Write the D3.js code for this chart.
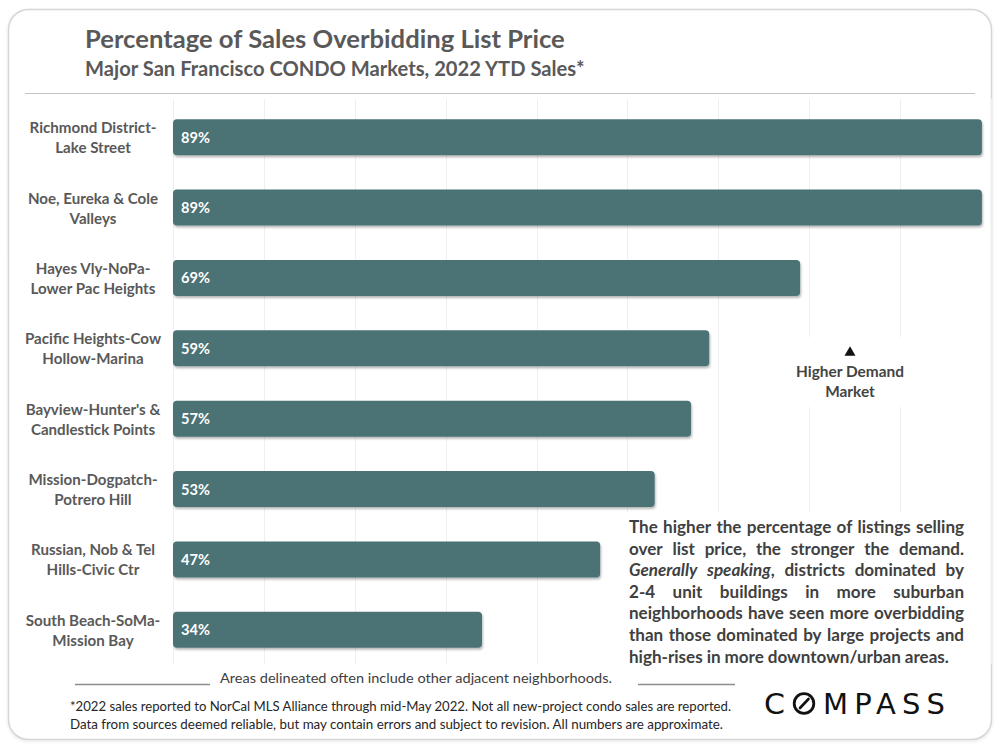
<!DOCTYPE html>
<html>
<head>
<meta charset="utf-8">
<script src="https://cdn.jsdelivr.net/npm/d3@7"></script>
<style>
  html, body { margin: 0; padding: 0; background: #ffffff; }
  svg { display: block; }
</style>
</head>
<body>
<svg id="chart" width="1000" height="750"></svg>
<script>
// ---------------- DATA ----------------
const categories = [
  ["Richmond District-", "Lake Street"],
  ["Noe, Eureka & Cole", "Valleys"],
  ["Hayes Vly-NoPa-", "Lower Pac Heights"],
  ["Pacific Heights-Cow", "Hollow-Marina"],
  ["Bayview-Hunter's &", "Candlestick Points"],
  ["Mission-Dogpatch-", "Potrero Hill"],
  ["Russian, Nob & Tel", "Hills-Civic Ctr"],
  ["South Beach-SoMa-", "Mission Bay"]
];
const values = [89, 89, 69, 59, 57, 53, 47, 34];
const gridTicks = [0, 10, 20, 30, 40, 50, 60, 70, 80, 90];

const titleText = "Percentage of Sales Overbidding List Price";
const subtitleText = "Major San Francisco CONDO Markets, 2022 YTD Sales*";
const annotationLines = ["Higher Demand", "Market"];
const paragraphLines = [
  [[["The"]], [["higher"]], [["the"]], [["percentage"]], [["of"]], [["listings"]], [["selling"]]],
  [[["over"]], [["list"]], [["price,"]], [["the"]], [["stronger"]], [["the"]], [["demand."]]],
  [[["Generally", true]], [["speaking", true], [","]], [["districts"]], [["dominated"]], [["by"]]],
  [[["2-4"]], [["unit"]], [["buildings"]], [["in"]], [["more"]], [["suburban"]]],
  [[["neighborhoods"]], [["have"]], [["seen"]], [["more"]], [["overbidding"]]],
  [[["than"]], [["those"]], [["dominated"]], [["by"]], [["large"]], [["projects"]], [["and"]]],
  [[["high-rises"]], [["in"]], [["more"]], [["downtown/urban"]], [["areas."]]]
];
const areasNote = "Areas delineated often include other adjacent neighborhoods.";
const footnotes = [
  "*2022 sales reported to NorCal MLS Alliance through mid-May 2022. Not all new-project condo sales are reported.",
  "Data from sources deemed reliable, but may contain errors and subject to revision. All numbers are approximate."
];

// ---------------- SETUP ----------------
const svg = d3.select("#chart");
const FONT = "Lato, 'Open Sans', sans-serif";
const barColor = "#4c7275";
const textGray = "#595959";

const defs = svg.append("defs");
const sh = defs.append("filter").attr("id", "barShadow")
  .attr("x", "-5%").attr("y", "-20%").attr("width", "110%").attr("height", "160%");
sh.append("feDropShadow").attr("dx", 1).attr("dy", 2).attr("stdDeviation", 1.3)
  .attr("flood-color", "#000").attr("flood-opacity", 0.28);
const cs = defs.append("filter").attr("id", "cardShadow")
  .attr("x", "-5%").attr("y", "-5%").attr("width", "110%").attr("height", "110%");
cs.append("feDropShadow").attr("dx", 0).attr("dy", 1).attr("stdDeviation", 1.5)
  .attr("flood-color", "#000").attr("flood-opacity", 0.12);

function fitSize(sel, target) {
  const base = parseFloat(sel.attr("font-size"));
  const w = sel.node().getComputedTextLength();
  const s = base * target / w;
  sel.attr("font-size", s);
  return s;
}

// card
svg.append("rect")
  .attr("x", 8.5).attr("y", 9.5).attr("width", 983).attr("height", 730)
  .attr("rx", 20).attr("fill", "#fff").attr("stroke", "#d6d6d6").attr("stroke-width", 1.5)
  .attr("filter", "url(#cardShadow)");

// titles
const t1 = svg.append("text").attr("x", 85).attr("y", 48)
  .attr("font-family", FONT).attr("font-weight", 700).attr("font-size", 24)
  .attr("fill", textGray).text(titleText);
fitSize(t1, 480);
const t2 = svg.append("text").attr("x", 85).attr("y", 76)
  .attr("font-family", FONT).attr("font-weight", 700).attr("font-size", 19)
  .attr("fill", textGray).text(subtitleText);
fitSize(t2, 500);

svg.append("line").attr("x1", 25).attr("x2", 975).attr("y1", 93.5).attr("y2", 93.5)
  .attr("stroke", "#c4c4c4").attr("stroke-width", 1.2);

// ---------------- SCALES ----------------
const x = d3.scaleLinear().domain([0, 90]).range([173, 991]);
const y = d3.scaleBand().domain(d3.range(categories.length))
  .range([102, 665]).paddingInner(0.489).paddingOuter(0.2445);

// gridlines
const grid = svg.append("g");
grid.selectAll("line").data(gridTicks).join("line")
  .attr("x1", d => Math.round(x(d)) + 0.5).attr("x2", d => Math.round(x(d)) + 0.5)
  .attr("y1", 99).attr("y2", 664)
  .attr("stroke", "#efefef").attr("stroke-width", 1);

// white boxes behind annotations (break gridlines)
svg.append("rect").attr("x", 780).attr("y", 337).attr("width", 140).attr("height", 70).attr("fill", "#fff");
svg.append("rect").attr("x", 615).attr("y", 512).attr("width", 362).attr("height", 160).attr("fill", "#fff");

// bars
svg.append("g").selectAll("rect").data(values).join("rect")
  .attr("x", x(0)).attr("y", (d, i) => y(i))
  .attr("width", d => x(d) - x(0)).attr("height", y.bandwidth())
  .attr("rx", 4).attr("fill", barColor).attr("filter", "url(#barShadow)");

// value labels
const vl = svg.append("g").selectAll("text").data(values).join("text")
  .attr("x", x(0) + 8).attr("y", (d, i) => y(i) + y.bandwidth() / 2 + 5.5)
  .attr("font-family", FONT).attr("font-weight", 700).attr("font-size", 15)
  .attr("fill", "#fff").text(d => d + "%");
{
  const first = d3.select(vl.nodes()[0]);
  const s = fitSize(first, 29);
  vl.attr("font-size", s);
}

// category labels
const cl = svg.append("g").selectAll("text").data(categories).join("text")
  .attr("text-anchor", "middle")
  .attr("font-family", FONT).attr("font-weight", 700).attr("font-size", 15)
  .attr("fill", textGray);
cl.each(function (d, i) {
  const c = y(i) + y.bandwidth() / 2;
  d3.select(this).selectAll("tspan").data(d).join("tspan")
    .attr("x", 93).attr("y", (t, j) => c - 4 + j * 20).text(t => t);
});
{
  const probe = svg.append("text").attr("font-family", FONT).attr("font-weight", 700)
    .attr("font-size", 15).text(categories[0][0]);
  const s = fitSize(probe, 127);
  probe.remove();
  cl.attr("font-size", s);
}

// annotation: Higher Demand Market
const ax = 850;
svg.append("path")
  .attr("d", d3.symbol().type(d3.symbolTriangle).size(52)())
  .attr("transform", `translate(${ax},352.5)`).attr("fill", "#111");
const an = svg.append("text").attr("text-anchor", "middle")
  .attr("font-family", FONT).attr("font-weight", 700).attr("font-size", 14)
  .attr("fill", "#444");
an.selectAll("tspan").data(annotationLines).join("tspan")
  .attr("x", ax).attr("y", (d, i) => 377 + i * 20).text(d => d);
{
  const probe = svg.append("text").attr("font-family", FONT).attr("font-weight", 700)
    .attr("font-size", 14).text(annotationLines[0]);
  const s = fitSize(probe, 108);
  probe.remove();
  an.attr("font-size", s);
}

// justified paragraph
{
  const px0 = 629, px1 = 964, base0 = 533, lh = 21.6;
  const probe = svg.append("text").attr("font-family", FONT).attr("font-weight", 700)
    .attr("font-size", 16).text("high-rises in more downtown/urban areas.");
  const fs = fitSize(probe, 321);
  probe.remove();
  const pg = svg.append("g").attr("font-family", FONT).attr("font-weight", 700)
    .attr("font-size", fs).attr("fill", "#404040");
  paragraphLines.forEach((words, li) => {
    const by = base0 + li * lh;
    const nodes = words.map(parts => {
      const t = pg.append("text").attr("y", by);
      parts.forEach(p => {
        t.append("tspan").attr("font-style", p[1] ? "italic" : "normal").text(p[0]);
      });
      return t;
    });
    const widths = nodes.map(n => n.node().getComputedTextLength());
    const total = d3.sum(widths);
    const last = li === paragraphLines.length - 1;
    const spaceW = fs * 0.23;
    const gap = last ? spaceW : (px1 - px0 - total) / (words.length - 1);
    let cx = px0;
    nodes.forEach((n, k) => { n.attr("x", cx); cx += widths[k] + gap; });
  });
}

// areas note with rules
svg.append("text").attr("x", 220).attr("y", 683)
  .attr("font-family", FONT).attr("font-size", 13).attr("fill", "#404040")
  .attr("textLength", 392).attr("lengthAdjust", "spacingAndGlyphs").text(areasNote);
svg.append("line").attr("x1", 75).attr("x2", 210).attr("y1", 684.5).attr("y2", 684.5)
  .attr("stroke", "#8c8c8c").attr("stroke-width", 1.3);
svg.append("line").attr("x1", 638).attr("x2", 735).attr("y1", 684.5).attr("y2", 684.5)
  .attr("stroke", "#8c8c8c").attr("stroke-width", 1.3);

// footnotes
const fnLen = [661, 653];
svg.append("g").selectAll("text").data(footnotes).join("text")
  .attr("x", 70).attr("y", (d, i) => 711 + i * 18)
  .attr("font-family", FONT).attr("font-size", 12.5).attr("fill", "#262626")
  .attr("textLength", (d, i) => fnLen[i]).attr("lengthAdjust", "spacingAndGlyphs")
  .text(d => d);

// COMPASS logo
{
  const lg = svg.append("g").attr("font-family", "'DejaVu Sans', sans-serif")
    .attr("font-size", 29).attr("fill", "#111");
  lg.append("text").attr("x", 764).attr("y", 714).attr("textLength", 21)
    .attr("lengthAdjust", "spacingAndGlyphs").text("C");
  lg.append("circle").attr("cx", 804).attr("cy", 703.5).attr("r", 9.8)
    .attr("fill", "none").attr("stroke", "#111").attr("stroke-width", 2.8);
  lg.append("line").attr("x1", 800).attr("y1", 708).attr("x2", 808.5).attr("y2", 699)
    .attr("stroke", "#111").attr("stroke-width", 2.6).attr("stroke-linecap", "round");
  lg.append("text").attr("x", 823).attr("y", 714).attr("textLength", 122)
    .attr("lengthAdjust", "spacing").text("MPASS");
}
</script>
</body>
</html>
